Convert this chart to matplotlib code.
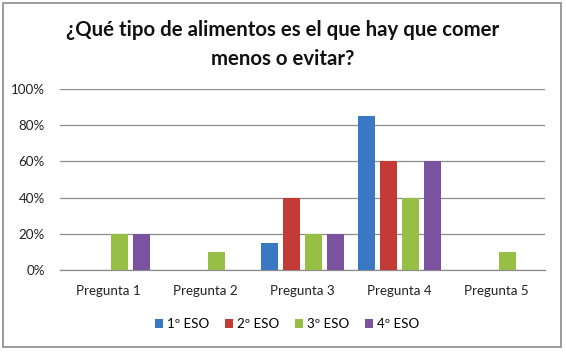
import numpy as np
import matplotlib
matplotlib.use("Agg")
import matplotlib.pyplot as plt
from matplotlib.patches import Rectangle

# Data
categories = ["Pregunta 1", "Pregunta 2", "Pregunta 3", "Pregunta 4", "Pregunta 5"]
series_names = ["1º ESO", "2º ESO", "3º ESO", "4º ESO"]
eso1 = [0, 0, 15, 85, 0]
eso2 = [0, 0, 40, 60, 0]
eso3 = [20, 10, 20, 40, 10]
eso4 = [20, 0, 20, 60, 0]
yticks = [0, 20, 40, 60, 80, 100]

colors = ["#3b78c4", "#c43a36", "#97bf45", "#7a52a0"]

plt.rcParams["font.family"] = ["Lato", "DejaVu Sans"]

fig = plt.figure(figsize=(5.66, 3.52), dpi=100)
ax = fig.add_axes([60 / 566, 1 - 270 / 352, 485 / 566, 181 / 352])

x = np.arange(len(categories))
width = 0.175
step = 0.227
for i, (vals, name) in enumerate(zip([eso1, eso2, eso3, eso4], series_names)):
    offset = (i - 1.5) * step
    ax.bar(x + offset, vals, width, color=colors[i], label=name, zorder=3)

ax.set_xlim(-0.5, len(categories) - 0.5)
ax.set_ylim(0, 100)
ax.set_yticks(yticks)
ax.set_yticklabels([f"{t}%" for t in yticks])
ax.set_xticks(x)
ax.set_xticklabels(categories)
ax.tick_params(axis="both", length=0, labelsize=9.6, colors="#222222")
ax.tick_params(axis="x", pad=11)
ax.tick_params(axis="y", pad=11)
ax.yaxis.grid(True, color="#8c8c8c", linewidth=0.9, zorder=0)
for side in ["left", "right", "top"]:
    ax.spines[side].set_visible(False)
ax.spines["bottom"].set_color("#8c8c8c")
ax.spines["bottom"].set_linewidth(0.9)

fig.text(0.5, 1 - 30 / 352, "¿Qué tipo de alimentos es el que hay que comer",
         ha="center", va="center", fontsize=14.7, fontweight="bold", color="#111111")
fig.text(0.5, 1 - 59 / 352, "menos o evitar?",
         ha="center", va="center", fontsize=14.7, fontweight="bold", color="#111111")

fig.legend(loc="center", bbox_to_anchor=(287 / 566, 1 - 324 / 352), ncol=4,
           frameon=False, fontsize=9.6, handlelength=0.6, handleheight=0.6,
           handletextpad=0.3, columnspacing=1.2)

# outer frame like the spreadsheet chart border
fig.patches.append(Rectangle((3 / 566, 1 - 347 / 352), 558 / 566, 344 / 352,
                             transform=fig.transFigure, fill=False,
                             edgecolor="#8a8a8a", linewidth=1.2))

fig.savefig("out.png", dpi=100, facecolor="white")
